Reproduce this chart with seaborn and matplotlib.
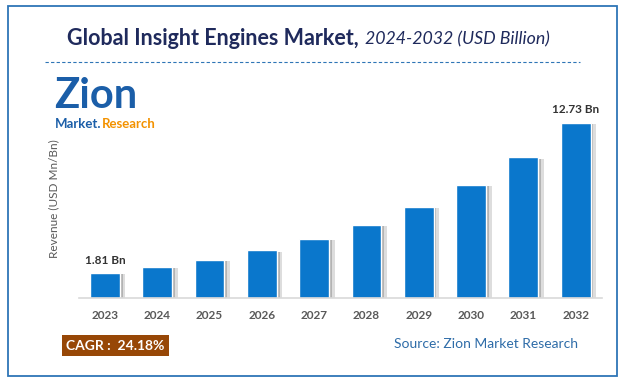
import matplotlib
matplotlib.use("Agg")
import matplotlib.pyplot as plt
import matplotlib.patheffects as pe
from matplotlib.patches import Rectangle
import pandas as pd
import seaborn as sns

# values (USD billion)
years = ['2023', '2024', '2025', '2026', '2027', '2028', '2029', '2030', '2031', '2032']
revenue = [1.81, 2.25, 2.79, 3.46, 4.30, 5.34, 6.63, 8.23, 10.22, 12.73]
bar_labels = {'2023': '1.81 Bn', '2032': '12.73 Bn'}

df = pd.DataFrame({'year': years, 'revenue': revenue})

sns.set_style('white')
plt.rcParams['font.family'] = ['Lato', 'DejaVu Sans']

fig = plt.figure(figsize=(6.25, 3.84), dpi=100)
ax = fig.add_axes([0.126, 0.224, 0.837, 0.516])

sns.barplot(data=df, x='year', y='revenue', color='#0A77CC', saturation=1,
            width=0.57, ax=ax)

# soft grey shadow on the right of every bar
for p in ax.patches:
    p.set_path_effects([pe.SimplePatchShadow(offset=(4, -1), shadow_rgbFace='#A0A0A0', alpha=0.35),
                        pe.SimplePatchShadow(offset=(2, -1), shadow_rgbFace='#808080', alpha=0.45),
                        pe.Normal()])

for i, (y, v) in enumerate(zip(years, revenue)):
    if y in bar_labels:
        ax.text(i, v + 0.55, bar_labels[y], ha='center', va='bottom',
                fontsize=8.5, fontweight='bold', color='#333333')

ax.set_xlim(-0.5, 9.5)
ax.set_ylim(0, 14.4)
ax.set_yticks([])
ax.set_xlabel('')
ax.set_ylabel('Revenue (USD Mn/Bn)', fontsize=8.5, color='#595959', labelpad=14)
for s in ['top', 'right', 'left']:
    ax.spines[s].set_visible(False)
ax.spines['bottom'].set_color('#D9D9D9')
ax.spines['bottom'].set_linewidth(1.2)
ax.tick_params(axis='x', length=0, pad=9)
for lbl in ax.get_xticklabels():
    lbl.set_fontsize(8.5)
    lbl.set_fontweight('bold')
    lbl.set_color('#595959')

# frame
fig.patches.append(Rectangle((0.012, 0.021), 0.975, 0.963, transform=fig.transFigure,
                             fill=False, edgecolor='#2E75B6', linewidth=1.3))

# title
t1 = fig.text(0.107, 0.90, 'Global Insight Engines Market,', fontsize=15.5, fontweight='bold',
              color='#1F2A5C', va='center', ha='left')
fig.canvas.draw()
bb = t1.get_window_extent()
fig.text(bb.x1 / fig.bbox.width + 0.010, 0.898, '2024-2032 (USD Billion)', fontsize=12.8,
         style='italic', color='#1F2A5C', va='center', ha='left')

# dashed separator
fig.add_artist(plt.Line2D([0.072, 0.928], [0.838, 0.838], transform=fig.transFigure,
                          color='#2E75B6', linewidth=0.8, linestyle=(0, (3, 2))))

# logo
fig.text(0.086, 0.720, 'Zion', fontsize=30, fontweight='bold', color='#1B5EA8',
         va='baseline', ha='left')
t2 = fig.text(0.088, 0.678, 'Market.', fontsize=9.5, fontweight='bold', color='#1B5EA8',
              va='center', ha='left')
fig.canvas.draw()
bb2 = t2.get_window_extent()
fig.text(bb2.x1 / fig.bbox.width, 0.678, 'Research', fontsize=9.5, fontweight='bold',
         color='#F39200', va='center', ha='left')

# CAGR box
fig.text(0.106, 0.100, 'CAGR :  24.18%', fontsize=10, fontweight='bold', color='white',
         va='center', ha='left',
         bbox=dict(boxstyle='square,pad=0.33', facecolor='#974706', edgecolor='none'))

fig.text(0.925, 0.103, 'Source: Zion Market Research', fontsize=10, color='#2E6CA8',
         va='center', ha='right')

fig.savefig('out.png', dpi=100)
